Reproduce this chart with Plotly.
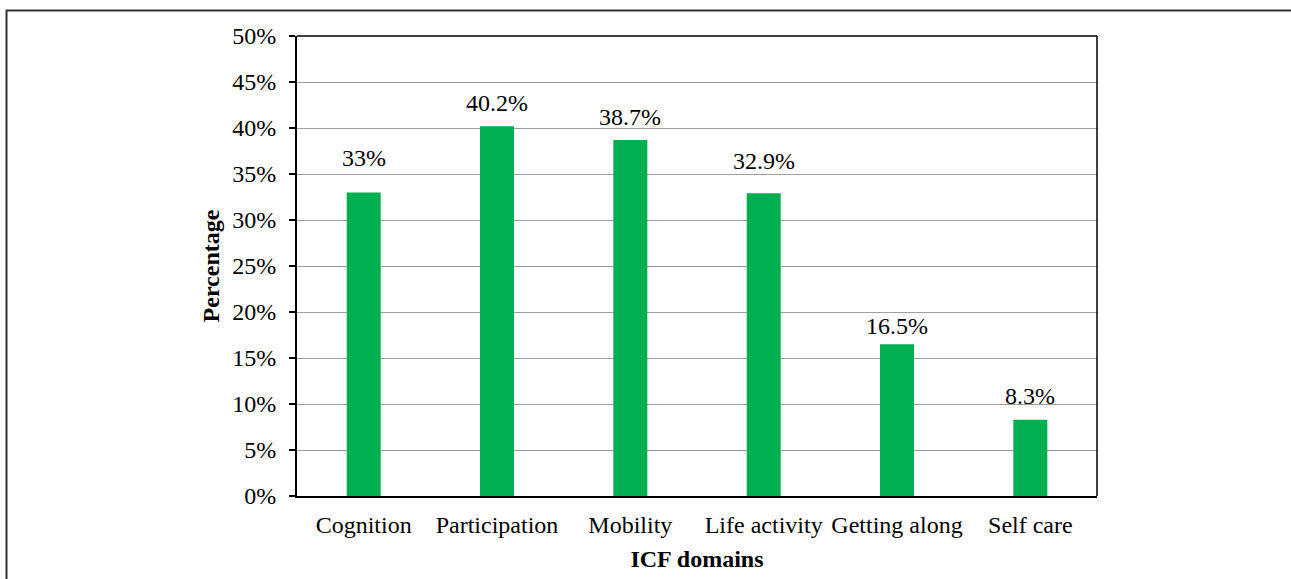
import plotly.graph_objects as go

categories = ["Cognition", "Participation", "Mobility", "Life activity", "Getting along", "Self care"]
values = [33.0, 40.2, 38.7, 32.9, 16.5, 8.3]
value_labels = ["33%", "40.2%", "38.7%", "32.9%", "16.5%", "8.3%"]
y_ticks = [0, 5, 10, 15, 20, 25, 30, 35, 40, 45, 50]
y_tick_labels = ["0%", "5%", "10%", "15%", "20%", "25%", "30%", "35%", "40%", "45%", "50%"]

label_shift = [34, 23, 23, 32, 18, 24]

FONT = "Liberation Serif, Times New Roman, serif"
FS = 24

fig = go.Figure()
fig.add_trace(go.Bar(x=categories, y=values, marker=dict(color="#00B050", line=dict(width=0)),
                     hoverinfo="skip"))

for c, v, t, s in zip(categories, values, value_labels, label_shift):
    fig.add_annotation(x=c, y=v, text=t, showarrow=False, yanchor="middle", yshift=s,
                       font=dict(family=FONT, size=FS, color="black"))

W, H = 1291, 579
L, R, T, B = 297, 194, 36, 83

fig.update_layout(
    width=W, height=H,
    margin=dict(l=L, r=R, t=T, b=B, autoexpand=False),
    paper_bgcolor="white", plot_bgcolor="white",
    bargap=0.745,
    showlegend=False,
    font=dict(family=FONT, size=FS, color="black"),
    xaxis=dict(
        showline=True, linecolor="black", linewidth=2, mirror=False,
        ticks="", showgrid=False, ticklabelstandoff=6,
        tickfont=dict(family=FONT, size=FS, color="black"),
        title=dict(text="<b>ICF domains</b>", font=dict(family=FONT, size=FS, color="black"), standoff=13),
        automargin=False,
    ),
    yaxis=dict(
        range=[0, 50], tickvals=y_ticks, ticktext=y_tick_labels,
        showline=True, linecolor="black", linewidth=2,
        ticks="outside", ticklen=6, tickcolor="black", tickwidth=1.5,
        ticklabelstandoff=8,
        showgrid=True, gridcolor="#A0A0A0", gridwidth=1,
        zeroline=False,
        tickfont=dict(family=FONT, size=FS, color="black"),
        title=dict(text="<b>Percentage</b>", font=dict(family=FONT, size=FS, color="black"), standoff=6),
        automargin=False,
    ),
)

# top and right borders of plot area
fig.add_shape(type="line", xref="paper", yref="paper", x0=0, x1=1, y0=1, y1=1,
              line=dict(color="black", width=1.5))
fig.add_shape(type="line", xref="paper", yref="paper", x0=1, x1=1, y0=0, y1=1,
              line=dict(color="black", width=1.5))

# outer frame of the figure (left and top edges visible)
pw, ph = W - L - R, H - T - B
def px(x):
    return (x - L) / pw
def py(y):
    return (H - B - y) / ph
fig.add_shape(type="rect", xref="paper", yref="paper",
              x0=px(6.5), x1=px(1300), y0=py(600), y1=py(10.5),
              line=dict(color="#333333", width=2), layer="below")

fig.write_html("out.html", config={"displayModeBar": False},
               post_script="document.body.style.margin='0';document.body.style.overflow='hidden';")
